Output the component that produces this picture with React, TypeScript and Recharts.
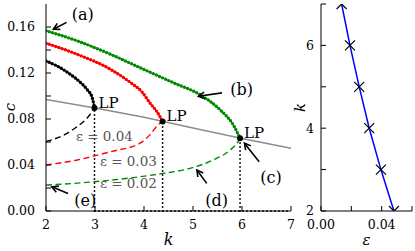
import React from 'react';
import { LineChart, Line, XAxis, YAxis, ReferenceLine, ReferenceDot } from 'recharts';

const SERIF = 'DejaVu Serif';

// left panel: steady states c(k) for three values of epsilon
const kTicks = [2, 3, 4, 5, 6, 7];
const kTickLabels = ['2', '3', '4', '5', '6', '7'];
const cTicks = [0, 0.02, 0.04, 0.06, 0.08, 0.1, 0.12, 0.14, 0.16];
const cTickLabels = ['0.00', '', '0.04', '', '0.08', '', '0.12', '', '0.16'];

const blackUpperK = [2, 2.23, 2.5, 2.71, 2.84, 2.945, 2.99];
const blackUpperC = [0.1304, 0.126, 0.1187, 0.1115, 0.1056, 0.0983, 0.0896];
const blackLowerK = [2, 2.37, 2.64, 2.84, 2.99];
const blackLowerC = [0.0604, 0.0662, 0.0735, 0.0808, 0.0896];

const redUpperK = [2, 2.64, 3.32, 3.73, 3.96, 4.12, 4.26, 4.38];
const redUpperC = [0.1459, 0.1362, 0.1231, 0.1115, 0.1035, 0.094, 0.0866, 0.0779];
const redLowerK = [2, 2.64, 3.32, 3.92, 4.12, 4.29, 4.38];
const redLowerC = [0.04, 0.0444, 0.0516, 0.059, 0.0662, 0.075, 0.0779];

const greenUpperK = [2, 2.64, 3.32, 3.92, 4.6, 5.14, 5.55, 5.82, 5.96];
const greenUpperC = [0.1567, 0.1479, 0.1362, 0.1246, 0.1115, 0.1012, 0.0881, 0.075, 0.0633];
const greenLowerK = [2, 2.98, 3.92, 4.39, 4.94, 5.41, 5.76, 5.92, 5.96];
const greenLowerC = [0.0225, 0.0254, 0.0298, 0.0327, 0.0371, 0.0444, 0.0531, 0.0604, 0.0633];

const grayK = [2, 3, 4, 5, 6, 7];
const grayC = [0.0969, 0.0896, 0.0815, 0.0722, 0.063, 0.0546];

// limit points
const lpK = [2.99, 4.38, 5.96];
const lpC = [0.0896, 0.0779, 0.0633];

// trivial branch c = 0
const zeroK = [3, 7];

const epsLabels = ['ε = 0.04', 'ε = 0.03', 'ε = 0.02'];
const epsLabelK = [2.61, 3.1, 3.1];
const epsLabelC = [0.0648, 0.0438, 0.024];

const panelLabels = ['(a)', '(b)', '(c)', '(d)', '(e)'];
const panelLabelK = [2.75, 5.99, 6.59, 5.48, 2.8];
const panelLabelC = [0.171, 0.1056, 0.0292, 0.0094, 0.0094];
const arrowTailK = [2.42, 5.59, 6.35, 5.28, 2.45];
const arrowTailC = [0.164, 0.1027, 0.0429, 0.024, 0.0152];
const arrowTipK = [2.15, 5.11, 6.05, 5.08, 2.12];
const arrowTipC = [0.1581, 0.0998, 0.059, 0.0356, 0.021];

// right panel: k of the limit point vs epsilon
const epsTicks = [0, 0.02, 0.04, 0.06];
const epsTickLabels = ['0.00', '', '0.04', ''];
const kRightTicks = [2, 3, 4, 5, 6, 7];
const kRightTickLabels = ['2', '', '4', '', '6', ''];
const lpEps = [0.0136, 0.0191, 0.0252, 0.0318, 0.0395, 0.0481];
const lpKs = [7, 6, 5, 4, 3, 2];

const GREEN = '#008a00';
const RED = '#ff0000';

const toRows = (xs: number[], ys: number[], xKey: string, yKey: string) =>
  xs.map((x, i) => ({ [xKey]: x, [yKey]: ys[i] }));

const tickStyle = { fill: '#000', fontSize: 12.5, fontFamily: SERIF };

const arrowShape = (p: any) => {
  const { x1, y1, x2, y2 } = p;
  const a = Math.atan2(y2 - y1, x2 - x1);
  const h = 7;
  const w = 0.5;
  const pts = `${x2 - h * Math.cos(a - w)},${y2 - h * Math.sin(a - w)} ${x2},${y2} ${x2 - h * Math.cos(a + w)},${y2 - h * Math.sin(a + w)}`;
  return (
    <g stroke="#000" strokeWidth={1.6} fill="none">
      <line x1={x1} y1={y1} x2={x2} y2={y2} />
      <polyline points={pts} />
    </g>
  );
};

const textShape = (label: string, opts: any) => (p: any) => (
  <text x={p.cx} y={p.cy} dominantBaseline="central" fontFamily={SERIF} {...opts}>
    {label}
  </text>
);

const lpShape = (p: any) => (
  <g>
    <circle cx={p.cx} cy={p.cy} r={3} fill="#000" />
    <text x={p.cx + 4} y={p.cy - 5} dominantBaseline="central" fontSize={15} fontFamily={SERIF} fill="#000">
      LP
    </text>
  </g>
);

const xMarker = (p: any) => {
  const { cx, cy, index } = p;
  const s = 5;
  return (
    <path
      key={`x-${index}`}
      d={`M${cx - s},${cy - s}L${cx + s},${cy + s}M${cx - s},${cy + s}L${cx + s},${cy - s}`}
      stroke="#000"
      strokeWidth={1.2}
      fill="none"
    />
  );
};

const axisTitle = (s: string, x: number, y: number) => () => (
  <text
    x={x}
    y={y}
    transform={`rotate(-90 ${x} ${y})`}
    textAnchor="middle"
    dominantBaseline="central"
    fontSize={15}
    fontStyle="italic"
    fontFamily={SERIF}
    fill="#000"
  >
    {s}
  </text>
);

export default function App() {
  const blackUpper = toRows(blackUpperK, blackUpperC, 'k', 'c');
  const blackLower = toRows(blackLowerK, blackLowerC, 'k', 'c');
  const redUpper = toRows(redUpperK, redUpperC, 'k', 'c');
  const redLower = toRows(redLowerK, redLowerC, 'k', 'c');
  const greenUpper = toRows(greenUpperK, greenUpperC, 'k', 'c');
  const greenLower = toRows(greenLowerK, greenLowerC, 'k', 'c');
  const gray = toRows(grayK, grayC, 'k', 'c');
  const right = toRows(lpEps, lpKs, 'eps', 'k');

  const uppers: [any[], string, string][] = [
    [greenUpper, GREEN, 'g'],
    [redUpper, RED, 'r'],
    [blackUpper, '#000', 'b'],
  ];
  const lowers: [any[], string, string][] = [
    [greenLower, GREEN, 'g'],
    [redLower, RED, 'r'],
    [blackLower, '#000', 'b'],
  ];

  return (
    <div style={{ position: 'fixed', left: 0, top: 0, width: 415, height: 251, background: '#fff', fontFamily: SERIF }}>
      <div style={{ position: 'absolute', left: 0, top: 0 }}>
        <LineChart width={300} height={251} margin={{ top: 4, right: 9, left: 0, bottom: 0 }}>
          <XAxis
            dataKey="k"
            type="number"
            domain={[2, 7]}
            ticks={kTicks}
            interval={0}
            allowDataOverflow
            tickSize={-5}
            tickMargin={14}
            height={40}
            stroke="#000"
            tick={tickStyle}
            tickFormatter={(v: number) => kTickLabels[kTicks.indexOf(v)] ?? ''}
            label={{ value: 'k', position: 'insideBottom', offset: 6, fill: '#000', fontSize: 16, fontStyle: 'italic', fontFamily: SERIF }}
          />
          <XAxis
            xAxisId="top"
            orientation="top"
            type="number"
            domain={[2, 7]}
            ticks={kTicks}
            interval={0}
            allowDataOverflow
            tickSize={-5}
            height={0}
            stroke="#000"
            tickFormatter={() => ''}
          />
          <YAxis
            type="number"
            domain={[0, 0.18]}
            ticks={cTicks}
            interval={0}
            allowDataOverflow
            tickSize={-5}
            tickMargin={16}
            width={46}
            stroke="#000"
            tick={tickStyle}
            tickFormatter={(v: number) => cTickLabels[cTicks.findIndex((t) => Math.abs(t - v) < 1e-9)] ?? ''}
            label={{ content: axisTitle('c', 10, 107) }}
          />
          <YAxis
            yAxisId="right"
            orientation="right"
            type="number"
            domain={[0, 0.18]}
            ticks={cTicks}
            interval={0}
            allowDataOverflow
            tickSize={-5}
            width={0}
            stroke="#000"
            tickFormatter={() => ''}
          />

          {lpK.map((k, i) => (
            <ReferenceLine
              key={`v-${i}`}
              segment={[{ x: k, y: 0 }, { x: k, y: lpC[i] }]}
              stroke="#000"
              strokeWidth={1.8}
              strokeDasharray="0 4"
              strokeLinecap="round"
            />
          ))}
          <ReferenceLine
            segment={[{ x: zeroK[0], y: 0 }, { x: zeroK[1], y: 0 }]}
            stroke="#000"
            strokeWidth={1.8}
            strokeDasharray="0 4"
            strokeLinecap="round"
          />

          <Line data={gray} dataKey="c" type="linear" stroke="#8c8c8c" strokeWidth={1.5} dot={false} isAnimationActive={false} />
          {lowers.map(([d, col, id]) => (
            <Line
              key={`lo-${id}`}
              data={d}
              dataKey="c"
              type="monotone"
              stroke={col}
              strokeWidth={1.4}
              strokeDasharray="6 3.5"
              dot={false}
              isAnimationActive={false}
            />
          ))}
          {uppers.map(([d, col, id]) => (
            <Line key={`up-${id}`} data={d} dataKey="c" type="monotone" stroke={col} strokeWidth={1.3} dot={false} isAnimationActive={false} />
          ))}
          {uppers.map(([d, col, id]) => (
            <Line
              key={`upd-${id}`}
              data={d}
              dataKey="c"
              type="monotone"
              stroke={col}
              strokeWidth={3.4}
              strokeDasharray="0 3.4"
              strokeLinecap="round"
              dot={false}
              isAnimationActive={false}
            />
          ))}

          {lpK.map((k, i) => (
            <ReferenceDot key={`lp-${i}`} x={k} y={lpC[i]} r={3} shape={lpShape} />
          ))}
          {epsLabels.map((s, i) => (
            <ReferenceDot
              key={`eps-${i}`}
              x={epsLabelK[i]}
              y={epsLabelC[i]}
              r={0}
              shape={textShape(s, { fontSize: 13.5, fill: '#555', textAnchor: 'start' })}
            />
          ))}
          {panelLabels.map((s, i) => (
            <ReferenceLine
              key={`ar-${i}`}
              segment={[{ x: arrowTailK[i], y: arrowTailC[i] }, { x: arrowTipK[i], y: arrowTipC[i] }]}
              shape={arrowShape}
            />
          ))}
          {panelLabels.map((s, i) => (
            <ReferenceDot
              key={`pl-${i}`}
              x={panelLabelK[i]}
              y={panelLabelC[i]}
              r={0}
              shape={textShape(s, { fontSize: 16, fill: '#000', textAnchor: 'middle' })}
            />
          ))}
        </LineChart>
      </div>

      <div style={{ position: 'absolute', left: 290, top: 0 }}>
        <LineChart width={125} height={251} margin={{ top: 4, right: 3, left: 0, bottom: 0 }}>
          <XAxis
            dataKey="eps"
            type="number"
            domain={[0, 0.06]}
            ticks={epsTicks}
            interval={0}
            allowDataOverflow
            tickSize={-5}
            tickMargin={14}
            height={40}
            stroke="#000"
            tick={tickStyle}
            tickFormatter={(v: number) => epsTickLabels[epsTicks.findIndex((t) => Math.abs(t - v) < 1e-9)] ?? ''}
            label={{ value: 'ε', position: 'insideBottom', offset: 6, fill: '#000', fontSize: 15, fontStyle: 'italic', fontFamily: SERIF }}
          />
          <XAxis
            xAxisId="top"
            orientation="top"
            type="number"
            domain={[0, 0.06]}
            ticks={epsTicks}
            interval={0}
            allowDataOverflow
            tickSize={-5}
            height={0}
            stroke="#000"
            tickFormatter={() => ''}
          />
          <YAxis
            type="number"
            domain={[2, 7]}
            ticks={kRightTicks}
            interval={0}
            allowDataOverflow
            tickSize={-5}
            tickMargin={12}
            width={31}
            stroke="#000"
            tick={tickStyle}
            tickFormatter={(v: number) => kRightTickLabels[kRightTicks.indexOf(v)] ?? ''}
            label={{ content: axisTitle('k', 10, 107.5) }}
          />
          <YAxis
            yAxisId="right"
            orientation="right"
            type="number"
            domain={[2, 7]}
            ticks={kRightTicks}
            interval={0}
            allowDataOverflow
            tickSize={-5}
            width={0}
            stroke="#000"
            tickFormatter={() => ''}
          />
          <Line data={right} dataKey="k" type="linear" stroke="#0000ff" strokeWidth={1.5} dot={xMarker} isAnimationActive={false} />
        </LineChart>
      </div>
    </div>
  );
}
